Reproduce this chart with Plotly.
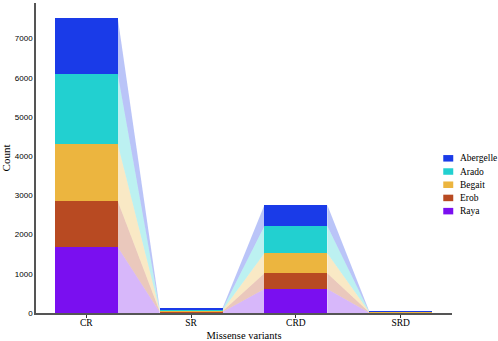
import plotly.graph_objects as go

categories = ["CR", "SR", "CRD", "SRD"]
populations = ["Raya", "Erob", "Begait", "Arado", "Abergelle"]
raya = [1684, 25, 612, 9]
erob = [1173, 22, 401, 8]
begait = [1454, 25, 510, 9]
arado = [1786, 25, 696, 9]
abergelle = [1436, 25, 536, 9]
y_ticks = [0, 1000, 2000, 3000, 4000, 5000, 6000, 7000]

series = [raya, erob, begait, arado, abergelle]
colors = ["#7a0ff0", "#b84a22", "#ecb53f", "#22d0d0", "#1a3be8"]

def rgba(hexc, a):
    h = hexc.lstrip("#")
    return "rgba(%d,%d,%d,%.2f)" % (int(h[0:2], 16), int(h[2:4], 16), int(h[4:6], 16), a)

SERIF = "Times New Roman, Liberation Serif, serif"
SANS = "Arial, Liberation Sans, sans-serif"
bw = 0.6
x = list(range(len(categories)))

fig = go.Figure()

# cumulative stacks
bottoms = []
tops = []
run = [0] * len(categories)
for s in series:
    b = run[:]
    t = [run[i] + s[i] for i in range(len(categories))]
    bottoms.append(b)
    tops.append(t)
    run = t

# connecting ribbons
for k, s in enumerate(series):
    for i in range(len(categories) - 1):
        xs = [i + bw / 2, i + bw / 2, i + 1 - bw / 2, i + 1 - bw / 2, i + bw / 2]
        ys = [bottoms[k][i], tops[k][i], tops[k][i + 1], bottoms[k][i + 1], bottoms[k][i]]
        fig.add_trace(go.Scatter(x=xs, y=ys, fill="toself", mode="lines",
                                 line=dict(width=0), fillcolor=rgba(colors[k], 0.3),
                                 showlegend=False, hoverinfo="skip"))

for k, s in enumerate(series):
    fig.add_trace(go.Bar(x=x, y=s, name=populations[k], width=bw,
                         marker=dict(color=colors[k], line=dict(width=0)),
                         showlegend=False))

# manual legend (top to bottom: Abergelle ... Raya)
order = list(range(len(populations)))[::-1]
y0 = 0.499
dy = 0.0426
for j, k in enumerate(order):
    yc = y0 - j * dy
    fig.add_shape(type="rect", xref="paper", yref="paper",
                  x0=0.979, x1=1.003, y0=yc - 0.0105, y1=yc + 0.0105,
                  fillcolor=colors[k], line=dict(width=0))
    fig.add_annotation(x=1.0135, y=yc, xref="paper", yref="paper", text=populations[k],
                       showarrow=False, xanchor="left", yanchor="middle",
                       font=dict(family=SERIF, size=9.5, color="black"))

fig.update_layout(
    barmode="stack",
    width=498, height=341,
    margin=dict(l=36, r=46, t=3, b=28, autoexpand=False),
    plot_bgcolor="white", paper_bgcolor="white",
    font=dict(family=SERIF, size=10, color="black"),
    showlegend=False,
)
fig.update_xaxes(range=[-0.48, 3.49], tickvals=x, ticktext=categories,
                 showline=True, linecolor="#555555", linewidth=1.5,
                 ticks="outside", ticklen=3, tickcolor="#333333",
                 ticklabelstandoff=-3,
                 showgrid=False, zeroline=False, automargin=False,
                 title=dict(text="Missense variants", font=dict(family=SERIF, size=10.5), standoff=12),
                 tickfont=dict(family=SERIF, size=9.5))
fig.update_yaxes(range=[0, 7908], tickvals=y_ticks,
                 showline=True, linecolor="#555555", linewidth=1.5,
                 ticks="", showgrid=False, zeroline=False, automargin=False,
                 title=dict(text="Count", font=dict(family=SERIF, size=11), standoff=20),
                 tickfont=dict(family=SANS, size=8))

fig.write_html("out.html", config={"displayModeBar": False},
               post_script="document.body.style.margin='0px';document.body.style.overflow='hidden';")
